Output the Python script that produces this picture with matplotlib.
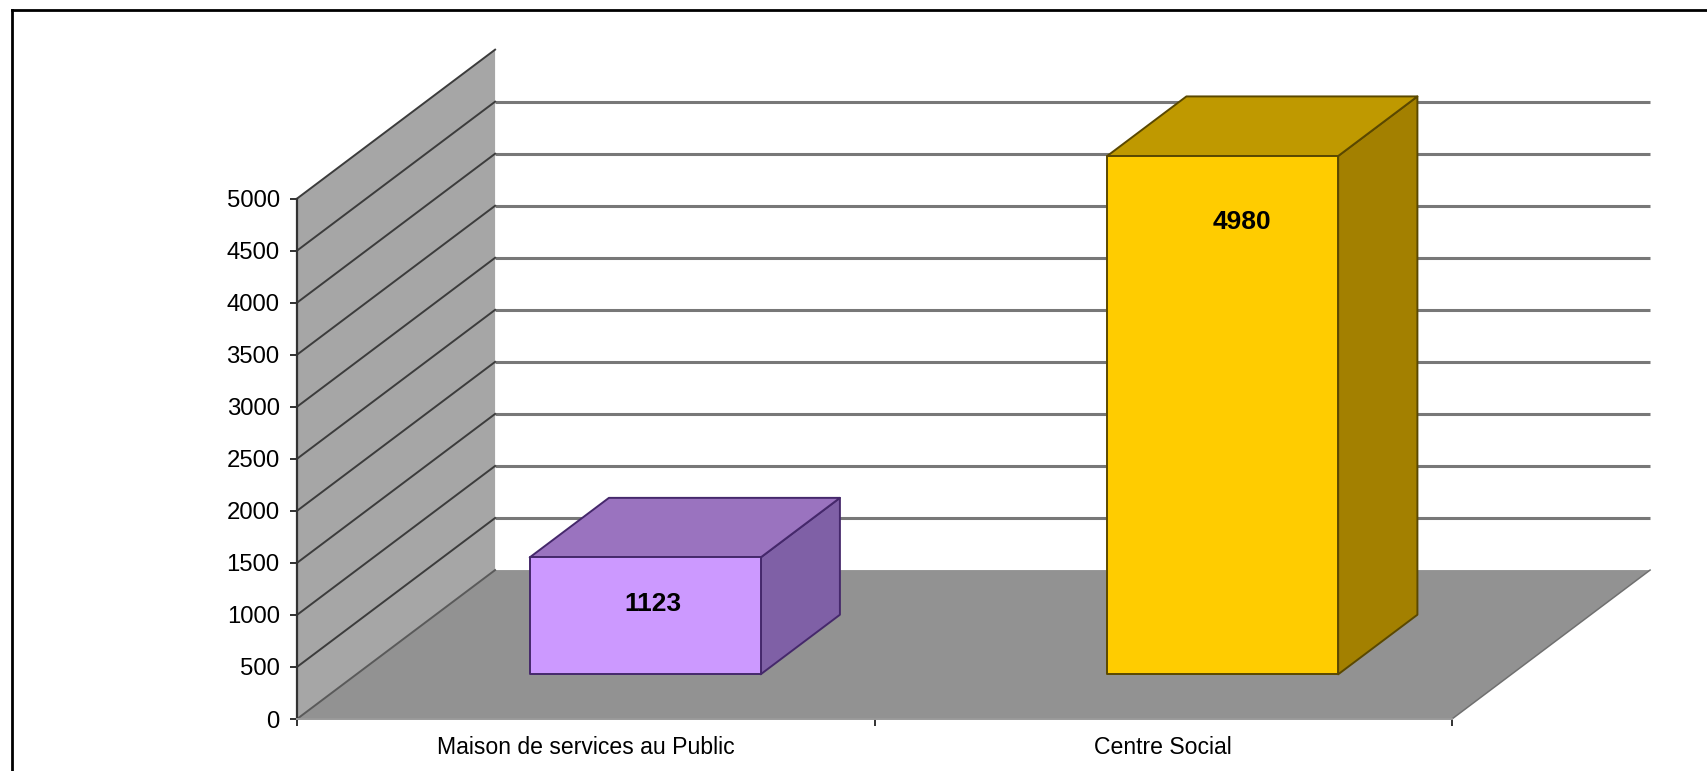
import matplotlib
matplotlib.use('Agg')
import matplotlib.pyplot as plt
from matplotlib.lines import Line2D

plt.rcParams['font.family'] = ['Liberation Sans', 'DejaVu Sans']

categories = ['Maison de services au Public', 'Centre Social']
values = [1123, 4980]
y_ticks = [0, 500, 1000, 1500, 2000, 2500, 3000, 3500, 4000, 4500, 5000]
front_colors = ['#CC99FF', '#FFCC00']
top_colors = ['#9A73BF', '#BF9900']
side_colors = ['#7F60A6', '#A38000']
edge_colors = ['#45286B', '#5A4800']
label_offsets = [(8, -47), (19, -66)]  # pixels from the top centre of the front face

# oblique depth: how far the back of the chart is shifted, in data units
DEPTH_X = 0.343
DEPTH_Y = 1431
BAR_WIDTH = 0.4
BAR_Z = (0.3, 0.7)

W, H = 1708, 771


def project(x, y, z):
    return x + z*DEPTH_X, y + z*DEPTH_Y


def face(ax, corners, color, edge='none', lw=1.4, zorder=2):
    pts = [project(*c) for c in corners]
    ax.fill([p[0] for p in pts], [p[1] for p in pts], facecolor=color, edgecolor=edge,
            linewidth=lw, zorder=zorder, clip_on=False, joinstyle='round')


fig = plt.figure(figsize=(W/100, H/100), dpi=100)
ax = fig.add_axes([297/W, 1-719/H, (1452-297)/W, (719-198.6)/H])
ax.set_xlim(0, 2)
ax.set_ylim(0, 5000)
ax.patch.set_alpha(0)

# side wall and floor
face(ax, [(0, 0, 0), (0, 0, 1), (0, 5000, 1), (0, 5000, 0)], '#A6A6A6', zorder=1)
face(ax, [(0, 0, 0), (2, 0, 0), (2, 0, 1), (0, 0, 1)], '#929292', zorder=1)

# gridlines on the back wall and side wall
for v in y_ticks:
    if 0 < v < 5000:
        xs, ys = zip(project(0, v, 1), project(2, v, 1))
        ax.plot(xs, ys, color='#787878', lw=2.2, zorder=0.5, clip_on=False, solid_capstyle='butt')
    xs, ys = zip(project(0, v, 0), project(0, v, 1))
    ax.plot(xs, ys, color='#3C3C3C' if v > 0 else '#5A5A5A', lw=1.4, zorder=1.5, clip_on=False)

# right edge of the floor
xs, ys = zip(project(2, 0, 0), project(2, 0, 1))
ax.plot(xs, ys, color='#707070', lw=1.1, zorder=1.5, clip_on=False)

# bars
for i, v in enumerate(values):
    x0, x1 = i + 0.5 - BAR_WIDTH/2, i + 0.5 + BAR_WIDTH/2
    z0, z1 = BAR_Z
    face(ax, [(x1, 0, z0), (x1, 0, z1), (x1, v, z1), (x1, v, z0)], side_colors[i], edge_colors[i], zorder=3)
    face(ax, [(x0, v, z0), (x1, v, z0), (x1, v, z1), (x0, v, z1)], top_colors[i], edge_colors[i], zorder=3)
    face(ax, [(x0, 0, z0), (x1, 0, z0), (x1, v, z0), (x0, v, z0)], front_colors[i], edge_colors[i], zorder=4)
    ax.annotate(str(v), xy=project(i + 0.5, v, z0), xytext=label_offsets[i], textcoords='offset pixels',
                ha='center', va='center', fontsize=19, fontweight='bold', color='black', zorder=5,
                annotation_clip=False)

# axes
for side in ['top', 'right']:
    ax.spines[side].set_visible(False)
ax.spines['left'].set_color('#333333')
ax.spines['left'].set_linewidth(1.6)
ax.spines['bottom'].set_color('#9A9A9A')
ax.spines['bottom'].set_linewidth(1.4)
ax.spines['bottom'].set_linestyle((0, (1, 1)))
ax.spines['left'].set_zorder(6)
ax.spines['bottom'].set_zorder(6)

ax.set_yticks(y_ticks)
ax.tick_params(axis='y', length=5, width=1.3, pad=7.5, labelsize=17.2, color='#222222')
ax.set_xticks([0, 1, 2], labels=['', '', ''])
ax.set_xticks([0.5, 1.5], labels=categories, minor=True)
ax.tick_params(axis='x', which='major', length=5, width=1.3, color='#222222')
ax.tick_params(axis='x', which='minor', length=0, pad=12.5, labelsize=16.6)

# outer frame: only top and left are inside the picture
fig.add_artist(Line2D([12.5/W, 12.5/W], [0, 1-10/H], color='black', lw=2))
fig.add_artist(Line2D([12/W, 1], [1-10/H, 1-10/H], color='black', lw=2))

fig.savefig('out.png', dpi=100)
